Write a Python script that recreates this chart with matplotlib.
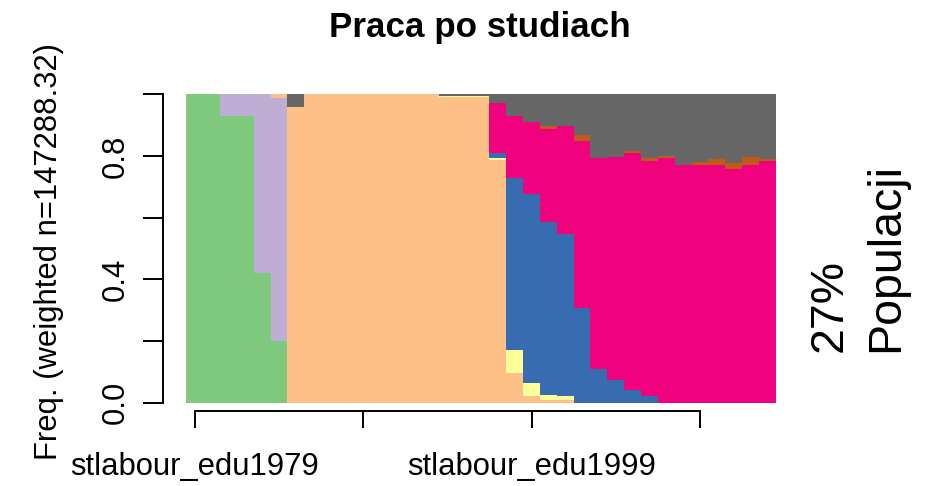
import matplotlib
matplotlib.use("Agg")
import matplotlib.pyplot as plt
import numpy as np

plt.rcParams['font.family'] = ['Liberation Sans', 'DejaVu Sans']

# years 1979..2013, one column each
years = list(range(1979, 2014))
tick_labels = ['stlabour_edu1979', '', 'stlabour_edu1999', '']

# state shares per year, bottom to top
green = [1.0, 1.0, 0.93, 0.93, 0.42, 0.20] + [0.0] * 29
lavender = [0.0, 0.0, 0.07, 0.07, 0.58, 0.787] + [0.0] * 29
orange = ([0.0] * 5 + [0.013, 0.96] + [1.0] * 8 + [0.99, 0.99, 0.99]
          + [0.786, 0.096, 0.021, 0.010, 0.008] + [0.0] * 12)
yellow = ([0.0] * 15 + [0.004, 0.004, 0.004]
          + [0.006, 0.076, 0.043, 0.016, 0.013] + [0.0] * 12)
blue = ([0.0] * 18 + [0.018, 0.555, 0.614, 0.561, 0.525, 0.307, 0.110,
                      0.075, 0.042, 0.021] + [0.0] * 7)
pink = ([0.0] * 18 + [0.162, 0.202, 0.233, 0.302, 0.350, 0.541, 0.682,
                      0.722, 0.768, 0.763, 0.792, 0.771, 0.771, 0.771,
                      0.757, 0.771, 0.784])
brown = ([0.0] * 21 + [0.009, 0.0, 0.019, 0.0, 0.0, 0.005, 0.009, 0.008,
                       0.0, 0.011, 0.018, 0.019, 0.027, 0.005])
gray = ([0.0] * 6 + [0.04] + [0.0] * 8 + [0.006, 0.006, 0.006]
        + [0.028, 0.071, 0.090, 0.103, 0.105, 0.133, 0.208, 0.203, 0.185,
           0.208, 0.200, 0.229, 0.218, 0.211, 0.224, 0.202, 0.211])

states = [green, lavender, orange, yellow, blue, pink, brown, gray]
colors = ['#7FC97F', '#BEAED4', '#FDC086', '#FFFF99',
          '#386CB0', '#F0027F', '#BF5B17', '#666666']

fig = plt.figure(figsize=(9.25, 4.86), dpi=100)
ax = fig.add_axes([186.3 / 925, 83.3 / 486, 589.4 / 925, 308.4 / 486])

x = np.arange(len(years))
bottom = np.zeros(len(years))
for vals, col in zip(states, colors):
    vals = np.array(vals)
    ax.bar(x, vals, width=1.0, bottom=bottom, color=col,
           linewidth=0, edgecolor='none', antialiased=False)
    bottom += vals

ax.set_xlim(-0.5, len(years) - 0.5)
ax.set_ylim(0, 1)

for s in ['top', 'right']:
    ax.spines[s].set_visible(False)
ax.spines['left'].set_position(('outward', 16.8))
ax.spines['left'].set_bounds(0, 1)
ax.spines['bottom'].set_position(('outward', 5.8))
ax.spines['bottom'].set_bounds(0, 30)
for s in ['left', 'bottom']:
    ax.spines[s].set_linewidth(1.4)

ax.set_xticks([0, 10, 20, 30], tick_labels)
ax.set_yticks([0, 0.2, 0.4, 0.6, 0.8, 1.0],
              ['0.0', '', '0.4', '', '0.8', ''])
ax.tick_params(axis='x', length=12.5, width=1.4, pad=17, labelsize=22.3)
ax.tick_params(axis='y', length=14.2, width=1.4, pad=9, labelsize=22.3)
for lab in ax.get_yticklabels():
    lab.set_rotation(90)
    lab.set_va('center')

fig.text(480 / 925, 1 - 37 / 486, 'Praca po studiach', ha='center',
         va='baseline', fontsize=25.2, fontweight='bold')
fig.text(57 / 925, 1 - 252 / 486, 'Freq. (weighted n=147288.32)',
         rotation=90, rotation_mode='anchor', ha='center', va='baseline',
         fontsize=22.3)
fig.text(842 / 925, 1 - 352 / 486, '27%', rotation=90,
         rotation_mode='anchor', ha='left', va='baseline', fontsize=33.5)
fig.text(898 / 925, 1 - 352 / 486, 'Populacji', rotation=90,
         rotation_mode='anchor', ha='left', va='baseline', fontsize=33.5)

fig.savefig('out.png', dpi=100)
